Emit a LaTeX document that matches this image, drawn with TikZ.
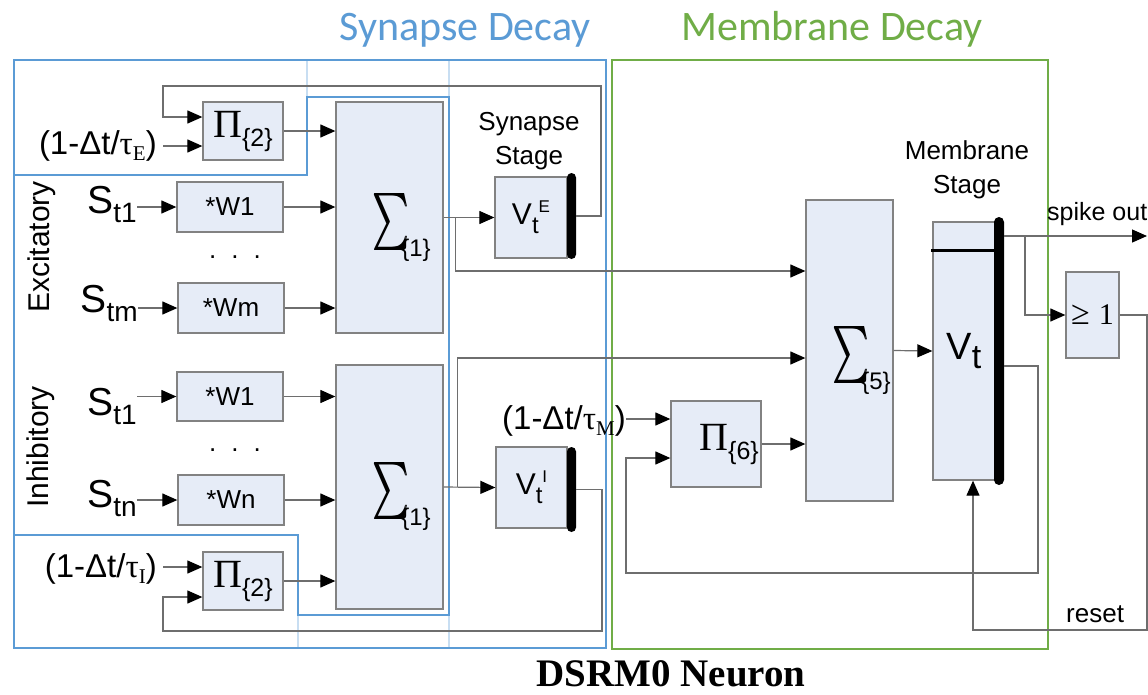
\documentclass[tikz,border=0pt]{standalone}
\usepackage{fontspec}
\usepackage{graphicx}
\setmainfont{Liberation Sans}
\newfontfamily\serifF{Liberation Serif}
\newfontfamily\titleF{Carlito}
\usetikzlibrary{arrows.meta,calc}
\definecolor{blkfill}{RGB}{230,236,247}
\definecolor{blkdraw}{RGB}{130,130,130}
\definecolor{wirec}{RGB}{110,110,110}
\definecolor{synblue}{RGB}{91,155,213}
\definecolor{synfaint}{RGB}{200,222,242}
\definecolor{memgreen}{RGB}{112,173,71}
\newcommand{\fs}[1]{\fontsize{#1}{#1}\selectfont}
\newcommand{\sgl}{\scalebox{3.4}[5.7]{$\sum$}}
\newcommand{\bigsig}[1]{\rule{0pt}{73pt}\hspace*{24pt}\raisebox{-10pt}{\rlap{\sgl}\hspace{1.2pt}\sgl}\hspace{-8.2pt}\raisebox{-9pt}{\fs{24}\{#1\}}}
\newcommand{\bigpi}[1]{{\serifF\fs{40}Π}\raisebox{-9pt}{\fs{25}\{#1\}}}
\newcommand{\sig}[1]{{\fs{39}S}\raisebox{-9pt}{\fs{28}#1}}
\newcommand{\taulab}[1]{\fs{33}(1-Δt/{\serifF τ}\raisebox{-6pt}{\serifF\fs{21}#1})}
\begin{document}
\begin{tikzpicture}[x=1pt,y=-1pt,
  blk/.style={draw=blkdraw,fill=blkfill,line width=1.3pt,inner sep=0pt,font=\fs{26}},
  barn/.style={fill=black,draw=none,rounded corners=4.5pt,inner sep=0pt},
  wire/.style={draw=wirec,line width=1.2pt},
  arr/.style={wire,-{Triangle[length=15pt,width=13pt,color=black]}},
  lbl/.style={inner sep=0pt,font=\fs{26}},
  stagelbl/.style={inner sep=0pt,align=center,font=\fontsize{26}{34}\selectfont},
  region/.style={line width=2.5pt}
]
\useasboundingbox (0,0) rectangle (1148,694);
\fill[white] (0,0) rectangle (1148,694);

% regions
\draw[synfaint,line width=1.5pt] (307,60) -- (307,97) (449,60) -- (449,97)
  (298,615) -- (298,648) (449,615) -- (449,648);
\draw[synblue,region] (14,60) rectangle (606,648);
\draw[synblue,region] (14,175) -- (307,175) -- (307,97) -- (449,97) -- (449,615)
  -- (298,615) -- (298,535) -- (14,535);
\draw[memgreen,region] (612,60) rectangle (1048,649);

% titles
\node[font=\titleF\fs{42},text=synblue,anchor=base,inner sep=0pt] (tsyn) at (465,40) {Synapse Decay};
\node[font=\titleF\fs{42},text=memgreen,anchor=base,inner sep=0pt] (tmem) at (832,40) {Membrane Decay};
\node[font=\serifF\bfseries\fs{39},anchor=base,inner sep=0pt] (ttl) at (671,686) {DSRM0 Neuron};

% side labels
\node[lbl,font=\fs{30},rotate=90] (exc) at (42,247) {Excitatory};
\node[lbl,font=\fs{30},rotate=90] (inh) at (41,447) {Inhibitory};

% blocks
\node[blk,minimum width=80pt,minimum height=58pt] (epi) at (243,131) {\bigpi{2}};
\node[blk,minimum width=106pt,minimum height=50pt] (ew1) at (230,207) {*W1};
\node[blk,minimum width=106pt,minimum height=50pt] (ewm) at (231,308) {*Wm};
\node[blk,minimum width=107pt,minimum height=231pt] (esum) at (389.5,217.5) {\bigsig{1}};
\node[blk,minimum width=106pt,minimum height=49pt] (iw1) at (230,396.5) {*W1};
\node[blk,minimum width=106pt,minimum height=50pt] (iwn) at (231,500) {*Wn};
\node[blk,minimum width=80pt,minimum height=58pt] (ipi) at (243,581) {\bigpi{2}};
\node[blk,minimum width=107pt,minimum height=244pt] (isum) at (389.5,487) {\bigsig{1}};
\node[blk,minimum width=72pt,minimum height=81pt] (vte) at (531,217.5)
  {{\fs{30}V}\raisebox{-9pt}{\fs{24}t}\raisebox{12pt}{\fs{17}E}};
\node[blk,minimum width=71pt,minimum height=81pt] (vti) at (531.5,487.5)
  {{\fs{30}V}\raisebox{-9pt}{\fs{24}t}\raisebox{12pt}{\fs{17}I}};
\node[barn,minimum width=9pt,minimum height=86pt] (vteb) at (571.5,216) {};
\node[barn,minimum width=9pt,minimum height=85pt] (vtib) at (571.5,489.5) {};
\node[blk,minimum width=87pt,minimum height=301pt] (sum5) at (849.5,350.5) {\bigsig{5}};
\node[blk,minimum width=90pt,minimum height=86pt] (pi6) at (716,444) {\hspace*{26pt}\bigpi{6}};
\node[blk,minimum width=62pt,minimum height=258pt] (vt) at (964,351)
  {{\fs{38}V}\raisebox{-9pt}{\fs{34}t}};
\node[barn,minimum width=10pt,minimum height=268pt,rounded corners=5pt] (vtb) at (999,351) {};
\draw[line width=3pt] (931,250) -- (994,250);
\node[blk,minimum width=53pt,minimum height=86pt] (ge) at (1092.5,315)
  {{\serifF\fs{34}≥}\hspace{9pt}{\serifF\fs{30}1}};

% text labels
\node[lbl,anchor=base east] (es1) at (137,213) {\sig{t1}};
\node[lbl,anchor=base east] (esm) at (138,312) {\sig{tm}};
\node[lbl,anchor=base east] (is1) at (137,415) {\sig{t1}};
\node[lbl,anchor=base east] (isn) at (137,507) {\sig{tn}};
\node[lbl] (edots) at (235,257) {.\hspace{15pt}.\hspace{15pt}.};
\node[lbl] (idots) at (235,450) {.\hspace{15pt}.\hspace{15pt}.};
\node[lbl,anchor=east] (etau) at (157,146) {\taulab{E}};
\node[lbl,anchor=east] (itau) at (157,569) {\taulab{I}};
\node[lbl,anchor=east] (mtau) at (626,421) {\taulab{M}};
\node[stagelbl] (synst) at (529,141) {Synapse\\Stage};
\node[stagelbl] (memst) at (967,170) {Membrane\\Stage};
\node[lbl,anchor=base west,font=\fs{25}] (spko) at (1047,220) {spike out};
\node[lbl,anchor=base west] (rst) at (1066,622) {reset};

% coordinates
\coordinate (etin) at (163,146);
\coordinate (itin) at (163,567);
\coordinate (mtin) at (626,419);
\coordinate (efb1) at (601,86);
\coordinate (efb2) at (163,117);
\coordinate (ifb1) at (602,631);
\coordinate (ifb2) at (163,597);
\coordinate (r271) at (0,271);
\coordinate (r358) at (0,358);
\coordinate (r366) at (0,366);
\coordinate (mfb1) at (1038,573);
\coordinate (mfb2) at (626,458);
\coordinate (spk) at (1147,236);
\coordinate (spb) at (1025,236);
\coordinate (rs1) at (1147,630);
\coordinate (rs2) at (973,630);

% excitatory wiring
\draw[arr] (es1.east |- ew1.west) -- (ew1.west);
\draw[arr] (esm.east |- ewm.west) -- (ewm.west);
\draw[arr] (ew1.east) -- (esum.west |- ew1.east);
\draw[arr] (ewm.east) -- (esum.west |- ewm.east);
\draw[arr] (epi.east) -- (esum.west |- epi.east);
\draw[arr] (etin) -- (epi.west |- etin);
\draw[arr] (vteb.east) -| (efb1) -| (efb2) -- (epi.west |- efb2);
\draw[arr] (esum.east) -- (vte.west);
\draw[arr] ($(esum.east)+(12,0)$) |- (sum5.west |- r271);

% inhibitory wiring
\draw[arr] (is1.east |- iw1.west) -- (iw1.west);
\draw[arr] (isn.east |- iwn.west) -- (iwn.west);
\draw[arr] (iw1.east) -- (isum.west |- iw1.east);
\draw[arr] (iwn.east) -- (isum.west |- iwn.east);
\draw[arr] (ipi.east) -- (isum.west |- ipi.east);
\draw[arr] (itin) -- (ipi.west |- itin);
\draw[arr] (vtib.east) -| (ifb1) -| (ifb2) -- (ipi.west |- ifb2);
\draw[arr] (isum.east) -- (vti.west);
\draw[arr] ($(isum.east)+(14,0)$) |- (sum5.west |- r358);

% membrane wiring
\draw[arr] (mtin) -- (pi6.west |- mtin);
\draw[arr] (pi6.east) -- (sum5.west |- pi6.east);
\draw[arr] (sum5.east) -- (vt.west);
\draw[arr] (vtb.east |- r366) -| (mfb1) -| (mfb2) -- (pi6.west |- mfb2);
\draw[arr] (vtb.east |- spk) -- (spk);
\draw[arr] (spb) |- (ge.west);
\draw[arr] (ge.east) -| (rs1) -- (rs2) -- (rs2 |- vt.south);
\end{tikzpicture}
\end{document}
